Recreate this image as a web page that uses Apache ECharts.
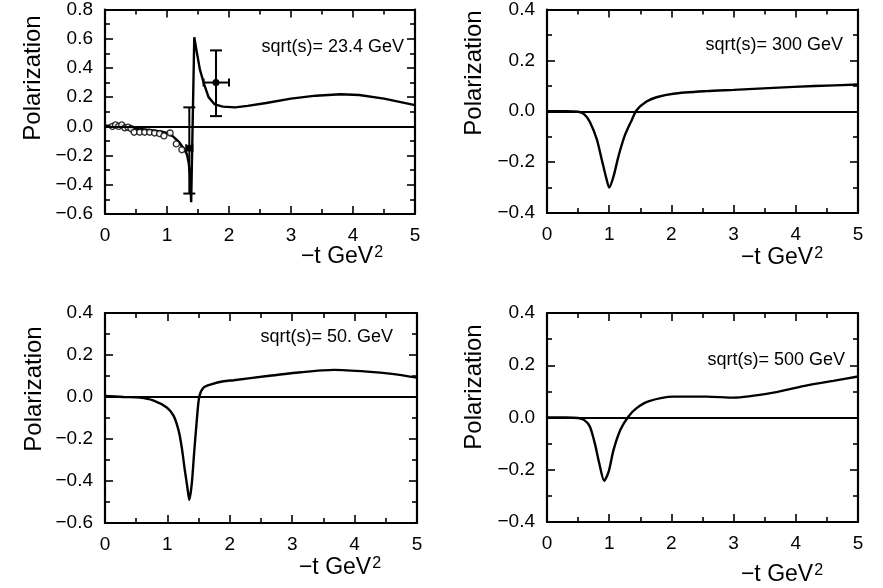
<!DOCTYPE html>
<html>
<head>
<meta charset="utf-8">
<script src="https://cdn.jsdelivr.net/npm/echarts@6/dist/echarts.min.js"></script>
<style>
html,body{margin:0;padding:0;background:#fff;}
#chart{width:883px;height:588px;}
</style>
</head>
<body>
<div id="chart"></div>
<script>
// ---------- data ----------
const panelTitles = ['sqrt(s)= 23.4 GeV', 'sqrt(s)= 300 GeV', 'sqrt(s)= 50. GeV', 'sqrt(s)= 500 GeV'];
const xTickValues = [0, 1, 2, 3, 4, 5];

// sqrt(s)=23.4 GeV model curve
const t234 = [0, 0.1, 0.2, 0.3, 0.4, 0.5, 0.6, 0.7, 0.8, 0.9, 1.0, 1.1, 1.2, 1.28, 1.32, 1.35, 1.37, 1.39, 1.44, 1.48, 1.53, 1.59, 1.67, 1.77, 1.9, 2.1, 2.3, 2.6, 3.0, 3.4, 3.8, 4.1, 4.5, 5.0];
const p234 = [0.005, 0.005, 0.0, -0.005, -0.01, -0.015, -0.02, -0.025, -0.03, -0.035, -0.045, -0.07, -0.11, -0.16, -0.19, -0.25, -0.33, -0.52, 0.61, 0.51, 0.39, 0.30, 0.20, 0.15, 0.135, 0.13, 0.14, 0.16, 0.19, 0.21, 0.22, 0.215, 0.19, 0.145];

// sqrt(s)=23.4 GeV measured points (open circles)
const dataT = [0.12, 0.17, 0.22, 0.27, 0.32, 0.37, 0.42, 0.47, 0.56, 0.64, 0.72, 0.80, 0.88, 0.95, 1.05, 1.15, 1.24];
const dataP = [0.0, 0.01, 0.0, 0.01, -0.01, -0.005, -0.015, -0.04, -0.04, -0.04, -0.04, -0.045, -0.05, -0.065, -0.045, -0.12, -0.16];

// sqrt(s)=23.4 GeV points with error bars
const errT   = [1.36, 1.79];
const errP   = [-0.15, 0.30];
const errPlo = [-0.46, 0.07];
const errPhi = [0.13, 0.52];
const errTlo = [1.31, 1.59];
const errThi = [1.41, 2.00];

// sqrt(s)=300 GeV
const t300 = [0, 0.3, 0.5, 0.6, 0.69, 0.80, 0.88, 0.96, 1.0, 1.07, 1.15, 1.25, 1.36, 1.44, 1.60, 1.76, 2.03, 2.57, 3.0, 3.64, 4.3, 5.0];
const p300 = [0, 0, -0.002, -0.012, -0.042, -0.11, -0.19, -0.27, -0.30, -0.256, -0.176, -0.096, -0.036, 0.004, 0.038, 0.055, 0.069, 0.079, 0.084, 0.092, 0.099, 0.105];

// sqrt(s)=50 GeV
const t50 = [0, 0.3, 0.56, 0.77, 0.99, 1.10, 1.18, 1.23, 1.28, 1.32, 1.35, 1.39, 1.43, 1.47, 1.51, 1.58, 1.70, 1.90, 2.06, 2.6, 3.14, 3.67, 4.2, 4.6, 5.0];
const p50 = [0.005, 0.0, -0.003, -0.016, -0.05, -0.09, -0.16, -0.24, -0.35, -0.43, -0.49, -0.415, -0.26, -0.115, 0.0, 0.045, 0.06, 0.075, 0.08, 0.10, 0.118, 0.129, 0.121, 0.11, 0.092];

// sqrt(s)=500 GeV
const t500 = [0, 0.3, 0.5, 0.6, 0.69, 0.77, 0.84, 0.92, 0.99, 1.07, 1.18, 1.31, 1.44, 1.63, 2.03, 2.57, 3.0, 3.64, 4.18, 4.6, 5.0];
const p500 = [0, 0, -0.002, -0.01, -0.035, -0.10, -0.175, -0.242, -0.208, -0.124, -0.047, 0.004, 0.036, 0.062, 0.08, 0.08, 0.076, 0.095, 0.123, 0.14, 0.157];

const yRanges = [[-0.6, 0.8], [-0.4, 0.4], [-0.6, 0.4], [-0.4, 0.4]];

// ---------- chart ----------
const FONT = 'Liberation Sans, Arial, Helvetica, sans-serif';
const grids = [
  {left: 105, top: 8, width: 310, height: 206},
  {left: 547, top: 9, width: 311, height: 204},
  {left: 105, top: 313, width: 312, height: 210},
  {left: 547, top: 313, width: 311, height: 209}
];
const zip = (a, b) => a.map((v, i) => [v, b[i]]);
const curves = [zip(t234, p234), zip(t300, p300), zip(t50, p50), zip(t500, p500)];

const lineAx = {show: true, onZero: false, lineStyle: {color: '#000', width: 2.2}};
const tickSt = {color: '#000', width: 1.6};
function yFmt(v) { const s = Math.abs(v).toFixed(1); return (v < -1e-9 ? '\u2212' : '') + s; }
const lblSt = {show: true, margin: 12, fontSize: 19, fontFamily: FONT, color: '#000'};

const xAxes = [], yAxes = [];
grids.forEach((g, i) => {
  xAxes.push({type: 'value', gridIndex: i, min: 0, max: 5, interval: 1, position: 'bottom',
    axisLine: lineAx, axisTick: {show: true, inside: true, length: 8, lineStyle: tickSt},
    minorTick: {show: true, splitNumber: 2, length: 5, lineStyle: tickSt},
    splitLine: {show: false},
    axisLabel: Object.assign({}, lblSt, {formatter: v => xTickValues.includes(v) ? String(v) : ''})});
  xAxes.push({type: 'value', gridIndex: i, min: 0, max: 5, interval: 1, position: 'top',
    axisLine: lineAx, axisTick: {show: true, inside: true, length: 8, lineStyle: tickSt},
    minorTick: {show: true, splitNumber: 2, length: 5, lineStyle: tickSt},
    splitLine: {show: false}, axisLabel: {show: false}});
  yAxes.push({type: 'value', gridIndex: i, min: yRanges[i][0], max: yRanges[i][1], interval: 0.2, position: 'left',
    axisLine: lineAx, axisTick: {show: true, inside: true, length: 8, lineStyle: tickSt},
    minorTick: {show: true, splitNumber: 2, length: 5, lineStyle: tickSt},
    splitLine: {show: false},
    axisLabel: Object.assign({}, lblSt, {formatter: yFmt})});
  yAxes.push({type: 'value', gridIndex: i, min: yRanges[i][0], max: yRanges[i][1], interval: 0.2, position: 'right',
    axisLine: lineAx, axisTick: {show: true, inside: true, length: 8, lineStyle: tickSt},
    minorTick: {show: true, splitNumber: 2, length: 5, lineStyle: tickSt},
    splitLine: {show: false}, axisLabel: {show: false}});
});

const series = [];
curves.forEach((c, i) => {
  series.push({type: 'line', xAxisIndex: 2 * i, yAxisIndex: 2 * i, data: c,
    showSymbol: false, smooth: i === 0 ? false : 0.25, lineStyle: {color: '#000', width: 2.4},
    silent: true, z: 3,
    markLine: {silent: true, symbol: ['none', 'none'], label: {show: false},
      lineStyle: {color: '#000', width: 2, type: 'solid'}, data: [{yAxis: 0}]}});
});
series.push({type: 'scatter', xAxisIndex: 0, yAxisIndex: 0, data: zip(dataT, dataP),
  symbol: 'circle', symbolSize: 6, itemStyle: {color: '#fff', borderColor: '#000', borderWidth: 1.4}, z: 4});
series.push({type: 'custom', xAxisIndex: 0, yAxisIndex: 0,
  data: errT.map((t, i) => [t, errP[i], errPlo[i], errPhi[i], errTlo[i], errThi[i]]),
  renderItem: function (params, api) {
    const c = api.coord([api.value(0), api.value(1)]);
    const lo = api.coord([api.value(0), api.value(2)]);
    const hi = api.coord([api.value(0), api.value(3)]);
    const l = api.coord([api.value(4), api.value(1)]);
    const r = api.coord([api.value(5), api.value(1)]);
    const st = {stroke: '#000', lineWidth: 2};
    const cw = 6;
    return {type: 'group', children: [
      {type: 'line', shape: {x1: lo[0], y1: lo[1], x2: hi[0], y2: hi[1]}, style: st},
      {type: 'line', shape: {x1: lo[0] - cw, y1: lo[1], x2: lo[0] + cw, y2: lo[1]}, style: st},
      {type: 'line', shape: {x1: hi[0] - cw, y1: hi[1], x2: hi[0] + cw, y2: hi[1]}, style: st},
      {type: 'line', shape: {x1: l[0], y1: l[1], x2: r[0], y2: r[1]}, style: st},
      {type: 'line', shape: {x1: l[0], y1: l[1] - 4, x2: l[0], y2: l[1] + 4}, style: st},
      {type: 'line', shape: {x1: r[0], y1: r[1] - 4, x2: r[0], y2: r[1] + 4}, style: st},
      {type: 'circle', shape: {cx: c[0], cy: c[1], r: 3.5}, style: {fill: '#000'}}
    ]};
  }, z: 5});

const yNamePos = [[33, 78], [474, 73], [34, 389], [474, 387]];
const xNamePos = [[342, 257], [782, 258], [340, 568], [782, 575]];
const titlePos = [[404, 47], [843, 45], [393, 337], [845, 360]];
const graphic = [];
for (let i = 0; i < 4; i++) {
  graphic.push({type: 'text', x: yNamePos[i][0], y: yNamePos[i][1], rotation: Math.PI / 2,
    style: {text: 'Polarization', font: '24px ' + FONT, fill: '#000', align: 'center', verticalAlign: 'middle'}});
  graphic.push({type: 'text', x: xNamePos[i][0], y: xNamePos[i][1],
    style: {text: '{a|\u2212t GeV}{s|2}', font: '23px ' + FONT, fill: '#000', align: 'center', verticalAlign: 'middle',
      rich: {a: {fontSize: 23, fontFamily: FONT, fill: '#000'}, s: {fontSize: 16, fontFamily: FONT, fill: '#000', verticalAlign: 'top', padding: [0, 0, 8, 1]}}}});
  graphic.push({type: 'text', x: titlePos[i][0], y: titlePos[i][1],
    style: {text: panelTitles[i], font: '18px ' + FONT, fill: '#000', align: 'right', verticalAlign: 'middle'}});
}

const chart = echarts.init(document.getElementById('chart'), null, {renderer: 'canvas'});
chart.setOption({
  animation: false,
  backgroundColor: '#fff',
  grid: grids,
  xAxis: xAxes,
  yAxis: yAxes,
  series: series,
  graphic: graphic
});
</script>
</body>
</html>
